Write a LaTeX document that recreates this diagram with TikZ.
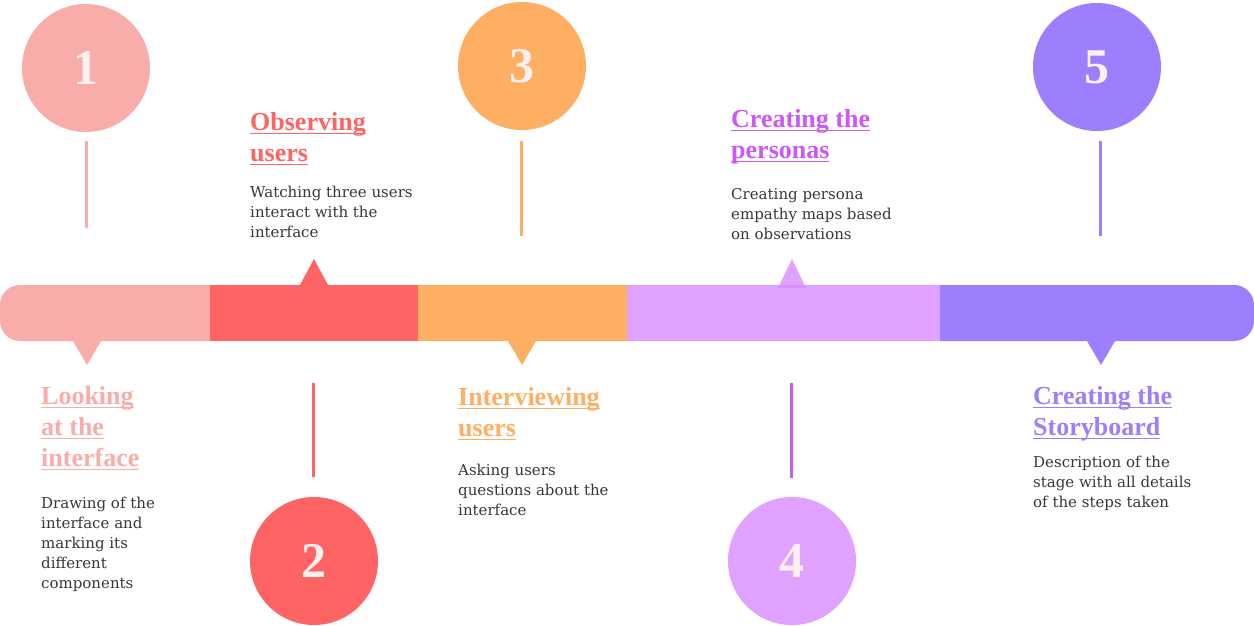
\documentclass[tikz,border=0pt]{standalone}
\usepackage{fontspec}
\setmainfont{DejaVu Serif}
\newfontfamily\headfont{Liberation Serif}
\usepackage{xcolor}
\usepackage{tikz}
\usetikzlibrary{positioning}
\definecolor{stagea}{HTML}{F9ADAA}
\definecolor{stageb}{HTML}{FF6464}
\definecolor{stagec}{HTML}{FFAF63}
\definecolor{staged}{HTML}{E0A1FF}
\definecolor{stagee}{HTML}{9D7EFC}
\definecolor{stagedark}{HTML}{CC58F8}
\definecolor{bodytext}{HTML}{383838}
\definecolor{numtext}{HTML}{FFF0F0}
% underlined title line
\newcommand{\stageul}[1]{\setbox0\hbox{#1}\rlap{\rule[-4.3pt]{\wd0}{1.8pt}}#1}

\begin{document}
\begin{tikzpicture}[
  x=1pt, y=-1pt,
  stepnum/.style={circle, minimum size=128pt, inner sep=0pt, text=numtext,
    font=\headfont\bfseries\fontsize{50}{50}\selectfont},
  stagetitle/.style={anchor=base west, inner sep=0pt, align=left,
    font=\headfont\bfseries\fontsize{26}{31}\selectfont},
  stagetext/.style={anchor=base west, inner sep=0pt, align=left, text=bodytext,
    font=\fontsize{15}{20}\selectfont},
  stem/.style={line width=3pt},
]
\useasboundingbox[fill=white] (0,0) rectangle (1254,626);

% timeline bar
\fill[stagea] (210,285) [rounded corners=20pt] -- (0,285) -- (0,341) [sharp corners] -- (210,341) -- cycle;
\fill[stageb] (210,285) rectangle (418,341);
\fill[stagec] (418,285) rectangle (627,341);
\fill[staged] (627,285) rectangle (940,341);
\fill[stagee] (940,285) [rounded corners=20pt] -- (1254,285) -- (1254,341) [sharp corners] -- (940,341) -- cycle;

% pointers
\fill[stagea] (73,341) -- (87,365) -- (101,341) -- cycle;
\fill[stageb] (300,285) -- (314,259) -- (328,285) -- cycle;
\fill[stagec] (508,341) -- (522,365) -- (536,341) -- cycle;
\fill[staged] (778,288) -- (792,259) -- (806,288) -- cycle;
\fill[staged!75!stagedark] (778,285) rectangle (806,288);
\fill[stagee] (1087,341) -- (1101,365) -- (1115,341) -- cycle;

% numbered circles
\node[stepnum, fill=stagea] (num1) at (86,68) {1};
\node[stepnum, fill=stageb] (num2) at (314,561) {2};
\node[stepnum, fill=stagec] (num3) at (522,66) {3};
\node[stepnum, fill=staged] (num4) at (792,561) {4};
\node[stepnum, fill=stagee] (num5) at (1097,67) {5};

% stems
\coordinate (s1a) at (86,142);  \coordinate (s1b) at (86,227);
\coordinate (s2a) at (313,383); \coordinate (s2b) at (313,477);
\coordinate (s3a) at (521,141); \coordinate (s3b) at (521,236);
\coordinate (s4a) at (791,383); \coordinate (s4b) at (791,478);
\coordinate (s5a) at (1100,141); \coordinate (s5b) at (1100,236);
\draw[stem, stagea, line cap=round] (s1a) -- (s1b);
\draw[stem, stageb] (s2a) -- (s2b);
\draw[stem, stagec] (s3a) -- (s3b);
\draw[stem, stagedark] (s4a) -- (s4b);
\draw[stem, stagee] (s5a) -- (s5b);

% titles and descriptions (placed at the baseline of their last line)
\node[stagetitle, text=stagea] (title1) at (41,466) {\stageul{Looking}\\\stageul{at the}\\\stageul{interface}};
\node[stagetext] (text1) at (41,588) {Drawing of the\\interface and\\marking its\\different\\components};

\node[stagetitle, text=stageb] (title2) at (250,161) {\stageul{Observing}\\\stageul{users}};
\node[stagetext] (text2) at (250,237) {Watching three users\\interact with the\\interface};

\node[stagetitle, text=stagec] (title3) at (458,436) {\stageul{Interviewing}\\\stageul{users}};
\node[stagetext] (text3) at (458,515) {Asking users\\questions about the\\interface};

\node[stagetitle, text=stagedark] (title4) at (731,158) {\stageul{Creating the}\\\stageul{personas}};
\node[stagetext] (text4) at (731,239) {Creating persona\\empathy maps based\\on observations};

\node[stagetitle, text=stagee] (title5) at (1033,435) {\stageul{Creating the}\\\stageul{Storyboard}};
\node[stagetext] (text5) at (1033,507) {Description of the\\stage with all details\\of the steps taken};
\end{tikzpicture}
\end{document}
